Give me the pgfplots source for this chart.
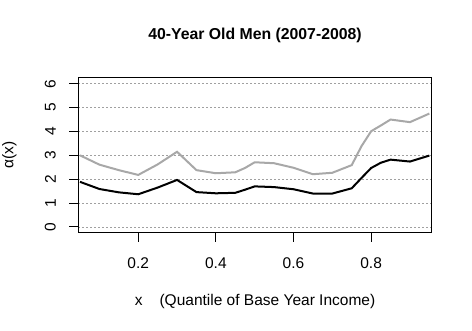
\documentclass[border=0pt]{standalone}
\usepackage{fontspec}
\setmainfont{Liberation Sans}
\usepackage{pgfplots}
\pgfplotsset{compat=1.18}

\definecolor{rgray}{HTML}{A8A8A8}
\definecolor{gridgray}{HTML}{A0A0A0}

\begin{document}
\begin{tikzpicture}[x=1pt,y=1pt]
\useasboundingbox (0,0) rectangle (472,331);

\begin{axis}[
    at={(78.3pt,98.3pt)},
    anchor=south west,
    scale only axis,
    width=353.4pt,
    height=154.7pt,
    xmin=0.0456, xmax=0.956,
    ymin=-0.24, ymax=6.24,
    xtick={0.2,0.4,0.6,0.8},
    xticklabels={0.2,0.4,0.6,0.8},
    ytick={0,1,2,3,4,5,6},
    tick pos=left,
    tick align=outside,
    major tick length=9pt,
    every tick/.style={black, line width=1pt},
    axis line style={line width=1pt},
    ymajorgrids,
    grid style={gridgray, line width=0.8pt, dash pattern=on 2pt off 2pt},
    /pgf/number format/assume math mode=true,
    tick label style={font=\fontsize{15.5}{17}\selectfont},
    yticklabel style={rotate=90, anchor=south},
    yticklabel shift=10pt,
    xticklabel shift=12pt,
    title={\textbf{40-Year Old Men (2007-2008)}},
    title style={font=\fontsize{15.8}{18}\selectfont, at={(axis description cs:0.5,1.239)}, anchor=center},
    xlabel={x\hspace{1.1em}(Quantile of Base Year Income)},
    xlabel style={font=\fontsize{15.5}{17}\selectfont, at={(axis description cs:0.5,-0.446)}, anchor=center},
    ylabel={α(x)},
    ylabel style={font=\fontsize{15.5}{17}\selectfont, at={(axis description cs:-0.195,0.5)}, rotate=0, anchor=center},
]

% upper curve (gray)
\addplot[rgray, line width=2pt] coordinates {
(0.05,3.00) (0.10,2.61) (0.15,2.38) (0.20,2.18) (0.25,2.62) (0.30,3.15)
(0.35,2.38) (0.40,2.25) (0.45,2.29) (0.475,2.47) (0.50,2.71) (0.55,2.67)
(0.60,2.48) (0.65,2.21) (0.70,2.27) (0.75,2.59) (0.775,3.38) (0.80,4.01)
(0.825,4.25) (0.85,4.50) (0.90,4.39) (0.95,4.75)
};

% lower curve (black)
\addplot[black, line width=2pt] coordinates {
(0.05,1.89) (0.10,1.59) (0.15,1.45) (0.20,1.37) (0.25,1.65) (0.30,1.97)
(0.35,1.46) (0.40,1.41) (0.45,1.43) (0.475,1.56) (0.50,1.70) (0.55,1.67)
(0.60,1.58) (0.65,1.40) (0.70,1.40) (0.75,1.62) (0.775,2.05) (0.80,2.47)
(0.825,2.69) (0.85,2.82) (0.90,2.74) (0.95,2.99)
};

\end{axis}
\end{tikzpicture}
\end{document}
